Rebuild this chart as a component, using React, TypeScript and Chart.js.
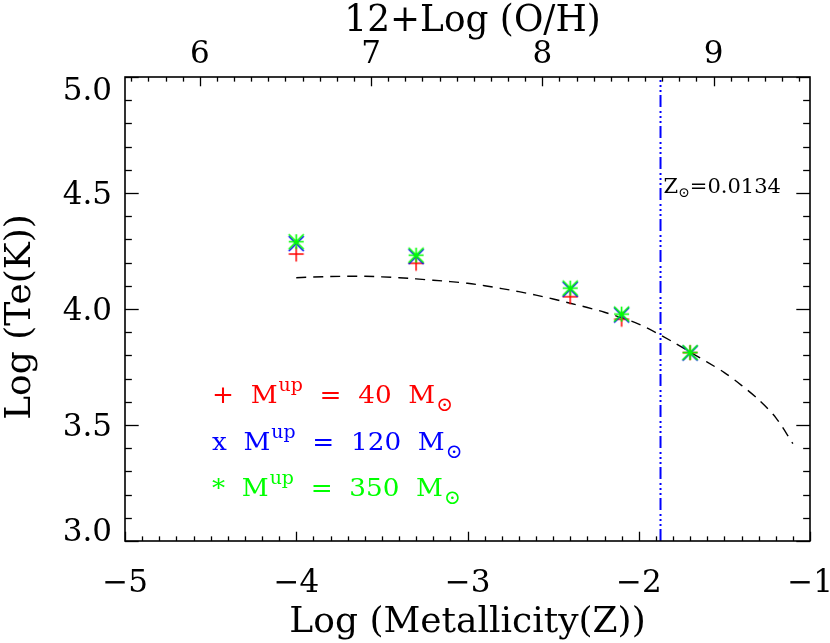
import React, { useEffect, useRef } from "react";
import { Chart, registerables } from "chart.js";

Chart.register(...registerables);

// ---------------- data ----------------
const metallicityLogZ = [-4.0, -3.3, -2.4, -2.1, -1.7];
const logTeMup40 = [4.237, 4.197, 4.053, 3.956, 3.812];
const logTeMup120 = [4.282, 4.226, 4.085, 3.974, 3.81];
const logTeMup350 = [4.29, 4.232, 4.09, 3.978, 3.812];

const fitLogZ = [-4.0, -3.8, -3.6, -3.4, -3.2, -3.0, -2.8, -2.6, -2.4, -2.2, -2.0, -1.8, -1.7, -1.6, -1.5, -1.4, -1.3, -1.2, -1.1];
const fitLogTe = [4.135, 4.14, 4.141, 4.135, 4.124, 4.111, 4.088, 4.06, 4.025, 3.986, 3.935, 3.858, 3.814, 3.771, 3.726, 3.671, 3.609, 3.532, 3.42];

const solarZ = 0.0134;
const solarOH = 8.69;
const solarLabel = "0.0134";

const xRange = [-5, -1];
const yRange = [3.0, 5.0];
const xMajorTicks = [-5, -4, -3, -2, -1];
const yMajorTicks = [3.0, 3.5, 4.0, 4.5, 5.0];
const ohMajorTicks = [6, 7, 8, 9];

const seriesSymbols = ["+", "x", "*"];
const seriesMasses = ["40", "120", "350"];
const seriesColors = ["#ff0000", "#0000ff", "#00ff00"];

const xTitle = "Log (Metallicity(Z))";
const yTitle = "Log (Te(K))";
const topTitle = "12+Log (O/H)";

// --------------------------------------
const solarLogZ = Math.log10(solarZ);
const ohOffset = solarOH - solarLogZ;
const FONT = '"DejaVu Serif", serif';

function makeMarker(kind: string, color: string, half: number, lw: number) {
  const size = Math.ceil(half * 2 + lw * 2 + 2);
  const c = document.createElement("canvas");
  c.width = size;
  c.height = size;
  const g = c.getContext("2d")!;
  const m = size / 2;
  g.strokeStyle = color;
  g.lineWidth = lw;
  g.beginPath();
  if (kind !== "x") {
    g.moveTo(m - half, m);
    g.lineTo(m + half, m);
    g.moveTo(m, m - half);
    g.lineTo(m, m + half);
  }
  if (kind !== "plus") {
    g.moveTo(m - half, m - half);
    g.lineTo(m + half, m + half);
    g.moveTo(m - half, m + half);
    g.lineTo(m + half, m - half);
  }
  g.stroke();
  return c;
}

function txt(ctx: CanvasRenderingContext2D, s: string, x: number, y: number, size: number, color: string, align: CanvasTextAlign = "left", sx = 1) {
  ctx.save();
  ctx.font = `${size}px ${FONT}`;
  ctx.fillStyle = color;
  ctx.textAlign = align;
  ctx.textBaseline = "alphabetic";
  ctx.translate(x, y);
  ctx.scale(sx, 1);
  ctx.fillText(s, 0, 0);
  ctx.restore();
}

function width(ctx: CanvasRenderingContext2D, s: string, size: number, sx = 1) {
  ctx.save();
  ctx.font = `${size}px ${FONT}`;
  const w = ctx.measureText(s).width * sx;
  ctx.restore();
  return w;
}

const framePlugin = {
  id: "frame",
  afterDraw(chart: any) {
    const { ctx, chartArea: a, scales } = chart;
    const xs = scales.x, ys = scales.y, x2 = scales.x2;
    ctx.save();
    ctx.strokeStyle = "#000";
    ctx.lineWidth = 1.6;
    ctx.strokeRect(a.left, a.top, a.right - a.left, a.bottom - a.top);

    ctx.lineWidth = 1.3;
    const seg = (x1: number, y1: number, xx: number, yy: number) => {
      ctx.beginPath();
      ctx.moveTo(x1, y1);
      ctx.lineTo(xx, yy);
      ctx.stroke();
    };
    const plotH = a.bottom - a.top;
    const plotW = a.right - a.left;
    const xMaj = 0.02 * plotH, xMin = 0.01 * plotH;
    const yMaj = 0.02 * plotW, yMin = 0.01 * plotW;

    // bottom ticks
    for (let k = Math.round(xRange[0] * 10); k <= Math.round(xRange[1] * 10); k++) {
      const px = Math.round(xs.getPixelForValue(k / 10)) + 0.5;
      const len = k % 10 === 0 ? xMaj : xMin;
      seg(px, a.bottom, px, a.bottom - len);
    }
    // top ticks (O/H)
    const ohMin = x2.min, ohMax = x2.max;
    for (let k = Math.ceil(ohMin * 10 - 1e-6); k <= Math.floor(ohMax * 10 + 1e-6); k++) {
      const px = Math.round(x2.getPixelForValue(k / 10)) + 0.5;
      const len = k % 10 === 0 ? xMaj : xMin;
      seg(px, a.top, px, a.top + len);
    }
    // y ticks left & right
    for (let k = Math.round(yRange[0] * 10); k <= Math.round(yRange[1] * 10); k++) {
      const py = Math.round(ys.getPixelForValue(k / 10)) + 0.5;
      const len = k % 5 === 0 ? yMaj : yMin;
      seg(a.left, py, a.left + len, py);
      seg(a.right, py, a.right - len, py);
    }

    // tick labels
    const tickSize = 31;
    const digitH = 0.73 * tickSize;
    xMajorTicks.forEach((v) => {
      const px = xs.getPixelForValue(v);
      const s = v < 0 ? "\u2212" + Math.abs(v) : String(v);
      txt(ctx, s, px, 592, tickSize, "#000", "center", 1.0);
    });
    ohMajorTicks.forEach((v) => {
      txt(ctx, String(v), x2.getPixelForValue(v), 63, tickSize, "#000", "center", 1.0);
    });
    yMajorTicks.forEach((v) => {
      let cy = ys.getPixelForValue(v);
      cy = Math.max(a.top + digitH / 2, Math.min(a.bottom - digitH / 2, cy));
      txt(ctx, v.toFixed(1), 112, cy + digitH / 2, tickSize, "#000", "right", 1.0);
    });

    // axis titles
    const cx = (a.left + a.right) / 2;
    txt(ctx, xTitle, cx, 632, 36, "#000", "center", 1.0);
    txt(ctx, topTitle, cx + 5, 31, 37, "#000", "center", 0.97);
    ctx.save();
    ctx.translate(30, (a.top + a.bottom) / 2 + 8);
    ctx.rotate(-Math.PI / 2);
    txt(ctx, yTitle, 0, 0, 36, "#000", "center", 1.0);
    ctx.restore();

    // solar annotation
    const zx = xs.getPixelForValue(solarLogZ) + 3;
    const zs = 21;
    txt(ctx, "Z", zx, 193, zs, "#000", "left");
    const wz = width(ctx, "Z", zs);
    txt(ctx, "\u2299", zx + wz, 197, 14, "#000", "left");
    const wsun = width(ctx, "\u2299", 14);
    txt(ctx, "=" + solarLabel, zx + wz + wsun, 193, zs, "#000", "left");

    // legend text
    const baselines = [403, 450, 496];
    const lx = 212;
    const ls = 25;
    const lsx = 1.05;
    seriesSymbols.forEach((sym, i) => {
      const col = seriesColors[i];
      const by = baselines[i];
      let x = lx;
      txt(ctx, sym, x, by, ls, col, "left", lsx);
      x += width(ctx, sym + "  ", ls, lsx);
      txt(ctx, "M", x, by, ls, col, "left", lsx);
      x += width(ctx, "M", ls, lsx);
      txt(ctx, "up", x + 1, by - 12, 18, col, "left", lsx);
      x += width(ctx, "up", 18, lsx) + 1;
      const mid = "  =  " + seriesMasses[i] + "  M";
      txt(ctx, mid, x, by, ls, col, "left", lsx);
      x += width(ctx, mid, ls, lsx);
      txt(ctx, "\u2299", x + 1, by + 8, 20, col, "left", 1.0);
    });
    ctx.restore();
  },
};

export default function App() {
  const ref = useRef<HTMLCanvasElement>(null);
  useEffect(() => {
    const canvas = ref.current!;
    const redPlus = makeMarker("plus", seriesColors[0], 7.5, 1.5);
    const blueX = makeMarker("x", seriesColors[1], 7.5, 1.6);
    const greenStar = makeMarker("star", seriesColors[2], 7.5, 1.6);
    const pts = (ys: number[]) => metallicityLogZ.map((x, i) => ({ x, y: ys[i] }));

    const chart = new Chart(canvas, {
      type: "scatter",
      data: {
        datasets: [
          {
            label: "fit",
            data: fitLogZ.map((x, i) => ({ x, y: fitLogTe[i] })),
            showLine: true,
            borderColor: "#000",
            borderWidth: 1.4,
            borderDash: [10, 7],
            pointRadius: 0,
            tension: 0.3,
            order: 6,
          } as any,
          {
            label: "solar",
            data: [
              { x: solarLogZ, y: yRange[0] },
              { x: solarLogZ, y: yRange[1] },
            ],
            showLine: true,
            borderColor: "#0000ff",
            borderWidth: 2,
            borderDash: [12, 3, 2, 3, 2, 3, 2, 4],
            pointRadius: 0,
            order: 5,
          } as any,
          {
            label: "Mup 40",
            data: pts(logTeMup40),
            pointStyle: redPlus,
            pointRadius: 8,
            order: 3,
          } as any,
          {
            label: "Mup 120",
            data: pts(logTeMup120),
            pointStyle: blueX,
            pointRadius: 8,
            order: 2,
          } as any,
          {
            label: "Mup 350",
            data: pts(logTeMup350),
            pointStyle: greenStar,
            pointRadius: 8,
            order: 1,
          } as any,
        ],
      },
      options: {
        animation: false,
        responsive: false,
        devicePixelRatio: 1,
        layout: { padding: { left: 0, right: 20, top: 0, bottom: 0 } },
        plugins: { legend: { display: false }, tooltip: { enabled: false } },
        scales: {
          x: {
            type: "linear",
            position: "bottom",
            min: xRange[0],
            max: xRange[1],
            grid: { display: false },
            border: { display: false },
            ticks: { display: false },
            afterFit: (s: any) => {
              s.height = 102;
            },
          },
          x2: {
            type: "linear",
            position: "top",
            min: xRange[0] + ohOffset,
            max: xRange[1] + ohOffset,
            grid: { display: false },
            border: { display: false },
            ticks: { display: false },
            afterFit: (s: any) => {
              s.height = 77;
            },
          },
          y: {
            type: "linear",
            position: "left",
            min: yRange[0],
            max: yRange[1],
            grid: { display: false },
            border: { display: false },
            ticks: { display: false },
            afterFit: (s: any) => {
              s.width = 125;
            },
          },
        },
      } as any,
      plugins: [framePlugin],
    });
    return () => chart.destroy();
  }, []);

  return (
    <div style={{ position: "fixed", left: 0, top: 0, width: 830, height: 643, background: "#fff" }}>
      <canvas ref={ref} width={830} height={643} style={{ display: "block" }} />
    </div>
  );
}
